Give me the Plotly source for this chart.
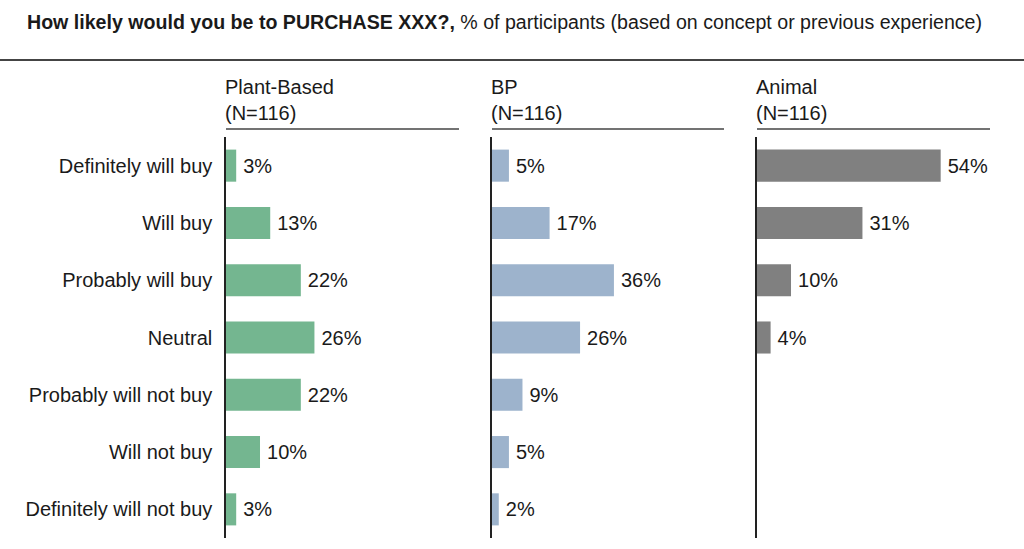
import plotly.graph_objects as go

categories = ["Definitely will buy", "Will buy", "Probably will buy", "Neutral",
              "Probably will not buy", "Will not buy", "Definitely will not buy"]
groups = ["Plant-Based", "BP", "Animal"]
group_n = ["(N=116)", "(N=116)", "(N=116)"]
plant_based = [3, 13, 22, 26, 22, 10, 3]
bp = [5, 17, 36, 26, 9, 5, 2]
animal = [54, 31, 10, 4, None, None, None]
series = [plant_based, bp, animal]
colors = ["#74B690", "#9DB3CC", "#808080"]

W, H = 1024, 549
FONT = "Liberation Sans, Arial, sans-serif"
TXT = "#1a1a1a"
FS = 20

fig = go.Figure()

panels_px = [(226, 459), (492, 724), (757, 990)]
y_top_px, y_bot_px = 137, 538

for i, (vals, col) in enumerate(zip(series, colors)):
    xa = "x" if i == 0 else f"x{i+1}"
    ya = "y" if i == 0 else f"y{i+1}"
    fig.add_trace(go.Bar(
        x=vals, y=categories, orientation="h",
        marker=dict(color=col, line=dict(width=0)),
        width=0.56,
        text=[f"\u2009{v}%" if v is not None else "" for v in vals],
        textposition="outside", cliponaxis=False,
        textfont=dict(family=FONT, size=FS, color=TXT),
        xaxis=xa, yaxis=ya, showlegend=False, hoverinfo="skip",
    ))

layout = dict(
    width=W, height=H, margin=dict(l=0, r=0, t=0, b=0),
    paper_bgcolor="white", plot_bgcolor="rgba(0,0,0,0)",
    font=dict(family=FONT, size=FS, color=TXT),
)
for i, (x0, x1) in enumerate(panels_px):
    suffix = "" if i == 0 else str(i + 1)
    layout[f"xaxis{suffix}"] = dict(
        domain=[x0 / W, x1 / W], range=[0, 68.5], visible=False, fixedrange=True,
        anchor=f"y{suffix}",
    )
    layout[f"yaxis{suffix}"] = dict(
        domain=[1 - y_bot_px / H, 1 - y_top_px / H],
        categoryorder="array", categoryarray=categories,
        autorange="reversed", anchor=f"x{suffix}",
        showgrid=False, zeroline=False, ticks="",
        showline=True, linecolor="#222", linewidth=1.5,
        showticklabels=(i == 0), ticklabelstandoff=8,
        tickfont=dict(family=FONT, size=FS, color=TXT),
        fixedrange=True,
    )
fig.update_layout(**layout)

shapes = [dict(type="line", xref="paper", yref="paper", x0=0, x1=1,
               y0=1 - 60 / H, y1=1 - 60 / H, line=dict(color="#444", width=2))]
annotations = [dict(
    text="<b>How likely would you be to PURCHASE XXX?,</b> % of participants (based on concept or previous experience)",
    xref="paper", yref="paper", x=25 / W, y=1 - 22 / H, xanchor="left", yanchor="middle",
    showarrow=False, font=dict(family=FONT, size=19.6, color=TXT))]
for (x0, x1), g, n in zip(panels_px, groups, group_n):
    shapes.append(dict(type="line", xref="paper", yref="paper", x0=x0 / W, x1=x1 / W,
                       y0=1 - 129 / H, y1=1 - 129 / H, line=dict(color="#444", width=1.5)))
    annotations.append(dict(text=g, xref="paper", yref="paper", x=x0 / W, y=1 - 87 / H,
                            xanchor="left", yanchor="middle", showarrow=False, xshift=-3,
                            font=dict(family=FONT, size=FS, color=TXT)))
    annotations.append(dict(text=n, xref="paper", yref="paper", x=x0 / W, y=1 - 113 / H,
                            xanchor="left", yanchor="middle", showarrow=False, xshift=-3,
                            font=dict(family=FONT, size=FS, color=TXT)))
fig.update_layout(shapes=shapes, annotations=annotations)

fig.write_html("out.html", config={"displayModeBar": False},
               post_script="document.body.style.margin='0';document.body.style.overflow='hidden';")
